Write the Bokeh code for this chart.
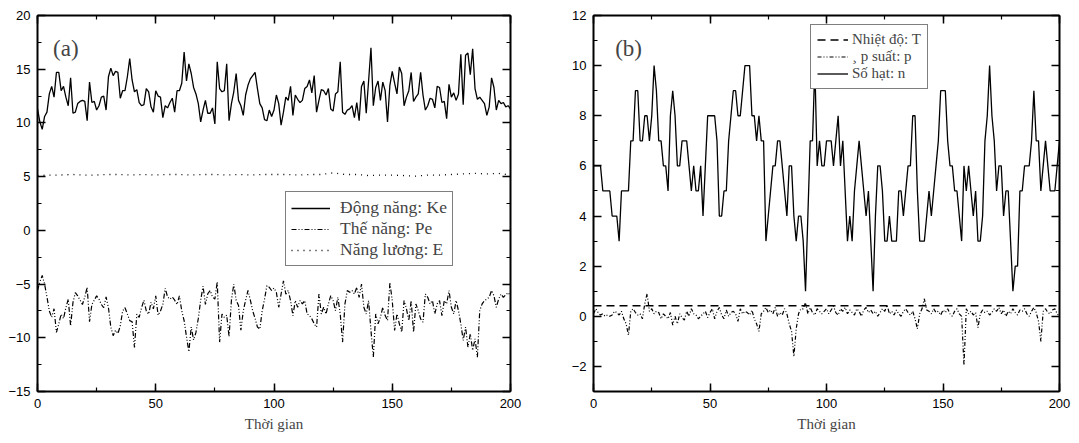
from bokeh.plotting import figure
from bokeh.models import (Range1d, LinearAxis, SingleIntervalTicker, Legend, LegendItem, Label,
                          CustomJSTickFormatter)
from bokeh.layouts import row
from bokeh.embed import file_html
from bokeh.resources import INLINE

# ---------------- data: panel (a) ----------------
ke = [11.3,10.1,9.4,10.6,11.0,12.7,13.4,12.4,14.7,14.7,
      13.0,13.4,12.4,11.6,14.2,10.9,11.0,11.8,12.0,12.1,
      12.0,10.2,13.8,11.9,12.0,11.2,11.6,12.4,12.5,11.2,
      14.3,15.1,14.4,14.8,14.7,12.3,13.0,13.0,14.3,16.0,
      14.0,12.9,13.1,11.9,11.6,11.7,13.2,12.9,11.5,11.0,
      13.0,12.5,12.4,10.5,11.6,11.4,11.9,12.3,11.0,13.0,
      13.0,13.7,16.6,13.9,15.5,14.6,13.3,12.7,11.8,10.1,
      11.2,12.1,10.9,10.9,11.4,9.9,15.7,13.2,12.9,13.0,
      15.5,10.2,11.8,12.9,14.6,12.1,11.6,10.7,12.6,13.5,
      14.1,14.4,14.7,13.2,11.8,11.4,10.3,10.2,11.2,10.6,
      11.2,12.6,
      11.8,9.8,11.0,12.4,12.1,13.4,10.7,12.6,12.2,11.9,
      12.1,13.2,13.4,14.0,12.8,14.4,11.0,12.1,13.1,13.0,
      12.6,13.2,11.3,11.1,12.7,12.9,15.7,11.0,10.8,11.2,
      11.3,11.6,10.5,11.9,10.2,13.4,13.9,10.9,13.9,17.0,
      11.6,13.3,13.9,12.1,13.8,13.0,10.1,13.5,14.8,13.7,
      12.7,15.2,14.6,11.6,12.4,13.0,14.7,12.0,12.4,12.7,
      14.7,12.6,11.2,11.6,12.3,12.2,11.4,13.4,13.3,11.9,
      12.0,10.4,13.6,12.4,12.8,12.1,12.7,16.4,11.7,16.3,
      16.5,14.5,16.9,13.2,12.2,12.4,12.1,11.8,10.7,11.5,
      14.2,13.3,11.2,12.1,11.8,11.9,11.5,11.6,11.3]

pe = [-5.6,-4.8,-4.2,-5.0,-6.2,-7.5,-8.1,-7.3,-9.5,-8.7,
      -7.8,-8.2,-7.2,-6.4,-8.9,-6.7,-5.8,-6.1,-6.5,-6.9,
      -6.2,-5.3,-8.5,-6.9,-6.5,-6.1,-6.4,-6.9,-7.2,-6.2,
      -7.2,-9.0,-9.8,-9.3,-9.6,-8.9,-7.5,-7.2,-7.8,-8.4,
      -8.5,-10.9,-7.8,-8.1,-7.2,-6.5,-7.5,-7.8,-6.7,-7.3,
      -6.1,-7.9,-7.5,-6.9,-5.4,-6.2,-6.4,-6.2,-6.5,-6.9,
      -6.1,-7.5,-8.4,-9.9,-11.3,-9.0,-10.2,-9.5,-8.2,-6.5,
      -5.2,-6.9,-5.9,-5.6,-6.2,-6.4,-4.8,-10.4,-7.8,-8.1,
      -7.9,-9.9,-6.5,-5.0,-6.5,-7.0,-9.3,-7.5,-6.5,-5.6,
      -6.5,-7.5,-8.2,-9.0,-9.2,-7.5,-6.4,
      -5.15,-5.3,-5.6,-5.37,-5.77,-7.16,-5.93,-4.69,-5.93,-5.6,-6.54,
      -7.93,-6.54,-7.16,-6.54,-6.85,-6.54,-7.78,-7.93,-8.24,-8.7,-9.0,
      -5.93,-7.78,-7.16,-7.78,-6.85,-6.08,-6.54,-7.47,-6.23,-7.78,
      -10.4,-6.85,-5.6,-5.77,-5.6,-5.93,-5.3,-6.23,-5.0,-7.16,
      -7.78,-6.54,-9.32,-11.8,-7.78,-8.7,-8.09,-7.16,-7.93,-8.4,
      -4.85,-6.54,-9.32,-7.78,-8.7,-9.48,-6.54,-7.3,-8.4,-6.54,
      -9.48,-6.85,-7.47,-8.24,-8.55,-5.93,-6.23,-6.85,-6.54,-7.78,
      -6.85,-6.54,-7.93,-6.54,-6.85,-5.6,-7.16,-7.78,-6.54,-7.47,
      -8.7,-10.25,-9.0,-10.86,-9.63,-11.17,-10.1,-11.8,-7.47,-6.85,
      -6.54,-6.39,-6.23,-5.6,-6.08,-7.16,-6.39,-5.93,-6.23,
      -6.0,-5.8,-6.1]

e_time = [0,5,10,15,20,25,30,35,40,45,50,55,60,65,70,75,80,85,90,95,100,
          105,110,115,120,125,130,135,140,145,150,155,160,165,170,175,180,185,190,195,200]
energy = [5.1,5.15,5.15,5.2,5.15,5.15,5.2,5.2,5.15,5.2,5.15,5.2,5.2,5.15,5.2,5.2,5.15,5.2,5.15,5.2,5.2,
          5.2,5.15,5.2,5.2,5.35,5.2,5.2,5.1,5.15,5.15,5.1,5.05,5.15,5.15,5.2,5.25,5.3,5.25,5.3,5.15]

# ---------------- data: panel (b) ----------------
n_part = [6,6,6,6,5,5,5,5,4,4,
          4,3,5,5,5,5,7,7,9,9,
          7,7,8,8,7,8,10,9,7,7,
          6,6,5,8,9,8,6,6,7,7,
          7,6,5,6,5,5,6,4,6,8,
          8,8,8,7,4,4,5,5,7,8,
          9,9,8,8,9,10,10,10,8,8,
          7,8,7,7,3,4,5,6,6,7,
          7,6,5,4,6,6,4,3,4,4,
          3,1,4,7,7,10,6,7,6,6,
          7,7,7,6,7,8,6,7,5,3,
          4,3,5,6,7,6,5,4,5,3,
          1,4,6,6,5,3,3,4,3,3,
          3,5,5,4,5,6,6,8,8,5,
          3,3,3,4,5,4,5,6,7,9,
          9,9,7,6,6,5,5,4,3,6,
          5,6,5,4,5,3,3,4,7,8,
          10,8,7,5,6,6,4,5,5,3,
          1,2,2,5,5,6,6,6,7,9,
          7,7,5,6,7,6,5,5,5,6,
          7]

pressure = [0.1,0.3,0.15,0.05,0.1,0.0,0.05,0.0,0.05,0.2,
            0.15,0.05,0.2,-0.1,-0.3,-0.75,0.2,0.3,0.15,0.05,
            0.1,-0.1,0.5,0.9,0.2,0.3,0.1,0.2,0.15,-0.1,
            0.1,0.0,-0.1,0.15,-0.35,0.0,-0.3,0.1,-0.05,-0.15,
            0.2,0.0,0.3,0.1,0.05,-0.1,0.0,0.1,0.2,-0.05,
            0.15,0.3,-0.1,0.2,0.35,0.05,-0.1,0.25,0.0,0.15,
            0.2,0.1,-0.2,0.3,0.1,0.2,0.15,0.05,0.25,-0.1,
            -0.3,-0.6,0.1,0.2,0.35,0.15,0.25,0.1,0.35,0.0,
            0.15,0.05,0.3,0.1,-0.3,-0.6,-1.6,-0.5,0.1,0.3,
            0.3,0.55,0.1,0.35,0.15,0.05,0.3,0.2,0.1,0.2,
            0.3,0.1,0.25,0.4,0.15,0.05,0.3,0.2,0.35,0.1,
            0.25,0.15,0.05,0.3,0.2,0.0,0.25,0.35,0.15,0.25,
            0.1,0.2,0.0,0.15,0.3,0.2,0.45,0.1,0.2,0.05,
            0.25,0.1,0.0,0.2,0.3,0.15,0.05,0.2,-0.1,-0.5,
            0.1,0.3,0.7,0.25,0.2,0.1,0.3,0.15,0.2,0.05,
            0.25,0.15,0.3,0.1,0.0,0.2,0.3,0.1,0.0,-1.95,
            0.3,0.1,0.2,0.05,0.15,-0.45,0.1,0.25,0.15,0.2,
            0.05,0.15,0.3,0.2,0.35,0.1,0.25,0.0,0.2,0.1,
            0.3,0.15,0.05,0.25,0.2,0.3,0.1,0.0,0.2,0.35,
            0.15,-0.2,-1.0,0.2,0.3,0.15,0.1,0.25,0.3,0.1,
            0.0]

t_time = [0,10,20,30,40,50,60,70,80,90,100,110,120,130,140,150,160,170,180,190,200]
temperature = [0.42,0.42,0.42,0.42,0.42,0.42,0.42,0.42,0.42,0.42,0.42,
               0.42,0.42,0.42,0.42,0.42,0.42,0.42,0.42,0.42,0.42]

x_ticks_interval = 50
xlabel = "Thời gian"
labels_a = ["Động năng: Ke", "Thế năng: Pe", "Năng lương: E"]
labels_b = ["Nhiệt độ: T", "¸ p suất: p", "Số hạt: n"]

SANS = "Liberation Sans"
SERIF = "Liberation Serif"


def make_fig(width, left, right, yr, yint):
    p = figure(width=width, height=437, output_backend="svg", toolbar_location=None,
               x_range=Range1d(0, 200), y_range=Range1d(*yr),
               min_border_left=left, min_border_right=right,
               min_border_top=15, min_border_bottom=46)
    p.grid.visible = False
    p.outline_line_color = None
    p.background_fill_color = "white"
    p.border_fill_color = "white"
    xa = p.xaxis[0]
    ya = p.yaxis[0]
    xa.ticker = SingleIntervalTicker(interval=x_ticks_interval, num_minor_ticks=2)
    ya.ticker = SingleIntervalTicker(interval=yint, num_minor_ticks=2)
    for ax in (xa, ya):
        ax.axis_line_width = 2
        ax.axis_line_color = "black"
        ax.major_tick_in = 8
        ax.major_tick_out = 0
        ax.minor_tick_in = 4
        ax.minor_tick_out = 0
        ax.major_tick_line_width = 1.5
        ax.minor_tick_line_width = 1.2
        ax.major_label_text_font = SANS
        ax.major_label_text_font_size = "13px"
        ax.major_label_text_color = "black"
    xa.major_label_standoff = 7
    ya.major_label_standoff = 7
    xa.axis_label = xlabel
    xa.axis_label_text_font = SERIF
    xa.axis_label_text_font_size = "15px"
    xa.axis_label_text_font_style = "normal"
    xa.axis_label_standoff = 5
    # mirror axes (ticks only)
    top = LinearAxis(ticker=SingleIntervalTicker(interval=x_ticks_interval, num_minor_ticks=2),
                     formatter=CustomJSTickFormatter(code="return ''"))
    rgt = LinearAxis(ticker=SingleIntervalTicker(interval=yint, num_minor_ticks=2),
                     formatter=CustomJSTickFormatter(code="return ''"))
    for ax in (top, rgt):
        ax.axis_line_width = 2
        ax.major_tick_in = 8
        ax.major_tick_out = 0
        ax.minor_tick_in = 4
        ax.minor_tick_out = 0
        ax.major_tick_line_width = 1.5
        ax.minor_tick_line_width = 1.2
        ax.major_label_standoff = 0
    p.add_layout(top, "above")
    p.add_layout(rgt, "right")
    return p


# ---------------- panel (a) ----------------
time_a = list(range(len(ke)))
time_pe = list(range(len(pe)))
pa = make_fig(540, 37, 30, (-15, 20), 5)
r_ke = pa.line(time_a, ke, line_color="black", line_width=1.3)
r_pe = pa.line(time_pe, pe, line_color="black", line_width=1.2, line_dash="5 2 1 2 1 2")
r_e = pa.line(e_time, energy, line_color="black", line_width=1.3, line_dash="1 5")
leg_a = Legend(items=[LegendItem(label=labels_a[0], renderers=[r_ke]),
                      LegendItem(label=labels_a[1], renderers=[r_pe]),
                      LegendItem(label=labels_a[2], renderers=[r_e])],
               location=(248, 125), orientation="vertical",
               border_line_color="black", border_line_width=1,
               background_fill_color="white", background_fill_alpha=1,
               label_text_font=SERIF, label_text_font_size="17.5px",
               glyph_width=39, glyph_height=20, label_height=20,
               label_standoff=10, spacing=0, padding=5, margin=0)
pa.add_layout(leg_a)
pa.add_layout(Label(x=6.6, y=16.9, text="(a)", text_font=SERIF, text_font_size="23px",
                    text_baseline="middle", text_align="left"))

# ---------------- panel (b) ----------------
time_b = list(range(len(n_part)))
time_p = list(range(len(pressure)))
pb = make_fig(532, 53, 13, (-3, 12), 2)
r_t = pb.line(t_time, temperature, line_color="black", line_width=1.3, line_dash="8 5")
r_p = pb.line(time_p, pressure, line_color="black", line_width=1.2, line_dash="4 2 1 2 1 2")
r_n = pb.line(time_b, n_part, line_color="black", line_width=1.3)
leg_b = Legend(items=[LegendItem(label=labels_b[0], renderers=[r_t]),
                      LegendItem(label=labels_b[1], renderers=[r_p]),
                      LegendItem(label=labels_b[2], renderers=[r_n])],
               location=(217, 302), orientation="vertical",
               border_line_color="black", border_line_width=1,
               background_fill_color="white", background_fill_alpha=1,
               label_text_font=SERIF, label_text_font_size="15px",
               glyph_width=31, glyph_height=17, label_height=17,
               label_standoff=4, spacing=0, padding=6, margin=0)
pb.add_layout(leg_b)
pb.add_layout(Label(x=9.3, y=10.7, text="(b)", text_font=SERIF, text_font_size="23px",
                    text_baseline="middle", text_align="left"))

layout = row(pa, pb)
open("out.html", "w").write(file_html(layout, INLINE))
